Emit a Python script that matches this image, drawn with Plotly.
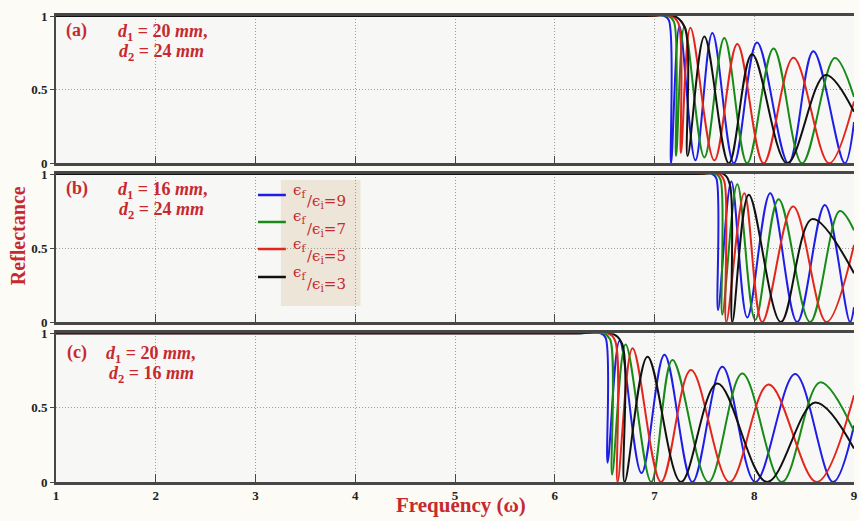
import plotly.graph_objects as go
from plotly.subplots import make_subplots

# ---------------- data ----------------
freq_ticks = [1, 2, 3, 4, 5, 6, 7, 8, 9]
refl_ticks = [0, 0.5, 1]
refl_tick_text = ["0", "0.5", "1"]
ratio_labels = ["9", "7", "5", "3"]
series_colors = ["#1e1ee6", "#178a17", "#e3261c", "#111111"]

# panel (a): d1 = 20 mm, d2 = 24 mm
a9_x = [1.0, 6.9, 7.10, 7.145, 7.166, 7.25, 7.41, 7.58, 7.796, 8.028, 8.343, 8.592, 8.907, 9.0]
a9_y = [1.0, 1.0, 1.0, 0.97, 0.0, 0.93, 0.02, 0.885, 0.0, 0.82, 0.0, 0.76, 0.0, 0.28]
a7_x = [1.0, 6.9, 7.14, 7.195, 7.216, 7.30, 7.50, 7.70, 7.929, 8.194, 8.48, 8.808, 9.0]
a7_y = [1.0, 1.0, 1.0, 0.96, 0.05, 0.93, 0.04, 0.85, 0.0, 0.78, 0.0, 0.715, 0.45]
a5_x = [1.0, 6.9, 7.17, 7.24, 7.265, 7.36, 7.60, 7.83, 8.094, 8.393, 8.75, 9.0]
a5_y = [1.0, 1.0, 1.0, 0.95, 0.07, 0.92, 0.02, 0.81, 0.0, 0.716, 0.0, 0.42]
a3_x = [1.0, 6.9, 7.20, 7.305, 7.332, 7.50, 7.746, 7.978, 8.33, 8.713, 9.0]
a3_y = [1.0, 1.0, 1.0, 0.92, 0.05, 0.86, 0.0, 0.74, 0.0, 0.60, 0.35]

# panel (b): d1 = 16 mm, d2 = 24 mm
b9_x = [1.0, 7.4, 7.58, 7.62, 7.637, 7.77, 7.93, 8.16, 8.43, 8.708, 8.96, 9.0]
b9_y = [1.0, 1.0, 1.0, 0.97, 0.08, 0.95, 0.03, 0.87, 0.0, 0.79, 0.0, 0.10]
b7_x = [1.0, 7.4, 7.62, 7.663, 7.68, 7.83, 8.01, 8.244, 8.56, 8.857, 9.0]
b7_y = [1.0, 1.0, 1.0, 0.96, 0.05, 0.93, 0.015, 0.83, 0.0, 0.75, 0.62]
b5_x = [1.0, 7.4, 7.65, 7.70, 7.72, 7.90, 8.08, 8.39, 8.724, 9.0]
b5_y = [1.0, 1.0, 1.0, 0.95, 0.0, 0.87, 0.0, 0.78, 0.0, 0.52]
b3_x = [1.0, 7.4, 7.69, 7.755, 7.78, 7.945, 8.267, 8.58, 9.0]
b3_y = [1.0, 1.0, 1.0, 0.93, 0.0, 0.86, 0.0, 0.695, 0.33]

# panel (c): d1 = 20 mm, d2 = 16 mm
c9_x = [1.0, 6.2, 6.46, 6.51, 6.53, 6.65, 6.87, 7.10, 7.38, 7.68, 8.01, 8.41, 8.79, 9.0]
c9_y = [1.0, 1.0, 1.0, 0.97, 0.13, 0.95, 0.06, 0.855, 0.0, 0.775, 0.0, 0.726, 0.0, 0.38]
c7_x = [1.0, 6.2, 6.49, 6.555, 6.575, 6.71, 6.967, 7.18, 7.54, 7.88, 8.277, 8.66, 9.0]
c7_y = [1.0, 1.0, 1.0, 0.96, 0.05, 0.925, 0.0, 0.82, 0.0, 0.73, 0.0, 0.67, 0.34]
c5_x = [1.0, 6.2, 6.53, 6.605, 6.63, 6.78, 7.066, 7.365, 7.753, 8.144, 8.625, 9.0]
c5_y = [1.0, 1.0, 1.0, 0.95, 0.0, 0.90, 0.0, 0.753, 0.0, 0.656, 0.0, 0.584]
c3_x = [1.0, 6.2, 6.57, 6.675, 6.70, 6.93, 7.265, 7.63, 8.128, 8.61, 9.0]
c3_y = [1.0, 1.0, 1.0, 0.93, 0.0, 0.843, 0.0, 0.663, 0.0, 0.535, 0.225]

panel_tags = ["(a)", "(b)", "(c)"]
panel_d1 = ["20", "16", "20"]
panel_d2 = ["24", "24", "16"]

# ---------------- figure ----------------
RED = "#c62a2f"
SERIF = "Liberation Serif"
FRAME = "#474747"
GRID = "#9c9c9c"
GRID_DASH = "1px,2px"

fig = make_subplots(rows=3, cols=1, shared_xaxes=True)

panels = [
    [(a9_x, a9_y), (a7_x, a7_y), (a5_x, a5_y), (a3_x, a3_y)],
    [(b9_x, b9_y), (b7_x, b7_y), (b5_x, b5_y), (b3_x, b3_y)],
    [(c9_x, c9_y), (c7_x, c7_y), (c5_x, c5_y), (c3_x, c3_y)],
]
for r, curves in enumerate(panels, start=1):
    for (xs, ys), col, lab in zip(curves, series_colors, ratio_labels):
        fig.add_trace(
            go.Scatter(
                x=xs, y=ys, mode="lines", name="εf/εi=" + lab,
                line=dict(color=col, width=2, shape="spline", smoothing=1.0),
                showlegend=False, hoverinfo="skip",
            ),
            row=r, col=1,
        )

W, H = 859, 521
ML, MR, MT, MB = 56, 1, 16, 39
PW, PH = W - ML - MR, H - MT - MB


def px2x(px):
    return (px - ML) / PW


def py2y(py):
    return (H - MB - py) / PH


domains = [[py2y(163.3), 1.0], [py2y(322), py2y(174)], [0.0, py2y(333.3)]]

for i in range(1, 4):
    fig.update_xaxes(
        range=[1, 9], tickvals=freq_ticks, showgrid=True, gridcolor=GRID,
        griddash=GRID_DASH, gridwidth=1, showline=True, linecolor=FRAME,
        linewidth=2.5, mirror=True, ticks="inside", ticklen=8, tickwidth=1.2,
        tickcolor=FRAME, zeroline=False, ticklabeloverflow="allow",
        tickfont=dict(family=SERIF, size=13, color="#222", weight="bold"),
        row=i, col=1,
    )
    fig.update_yaxes(
        range=[0, 1], tickvals=refl_ticks, ticktext=refl_tick_text,
        showgrid=True, gridcolor=GRID, griddash=GRID_DASH, gridwidth=1,
        showline=True, linecolor=FRAME, linewidth=2, mirror=False,
        ticks="outside", ticklen=4, tickwidth=1.2, tickcolor=FRAME,
        zeroline=False, domain=domains[i - 1],
        tickfont=dict(family=SERIF, size=13, color="#222", weight="bold"),
        row=i, col=1,
    )

annotations = []
tag_y = [30, 188, 352]
d1_left = [116, 116, 104]
d2_left = [117, 117, 107]
for k in range(3):
    annotations.append(dict(
        x=px2x(77), y=py2y(tag_y[k]), xref="paper", yref="paper",
        text="<b>" + panel_tags[k] + "</b>", showarrow=False,
        font=dict(family=SERIF, size=18, color=RED), xanchor="center", yanchor="middle",
    ))
    annotations.append(dict(
        x=px2x(d1_left[k]), y=py2y(tag_y[k] + 2), xref="paper", yref="paper",
        text="<b><i>d</i><sub>1</sub>\u00a0=\u00a0" + panel_d1[k] + "\u00a0<i>mm</i>,</b>",
        showarrow=False, font=dict(family=SERIF, size=18, color=RED),
        xanchor="left", yanchor="middle",
    ))
    annotations.append(dict(
        x=px2x(d2_left[k]), y=py2y(tag_y[k] + 22), xref="paper", yref="paper",
        text="<b><i>d</i><sub>2</sub>\u00a0=\u00a0" + panel_d2[k] + "\u00a0<i>mm</i></b>",
        showarrow=False, font=dict(family=SERIF, size=18, color=RED),
        xanchor="left", yanchor="middle",
    ))

# legend (custom, inside panel b)
shapes = [dict(
    type="rect", xref="paper", yref="paper",
    x0=px2x(282), x1=px2x(362), y0=py2y(306), y1=py2y(180),
    fillcolor="#ece5d8", line=dict(width=0), layer="below",
)]
leg_py = [195, 222, 249, 277]
for py, col, lab in zip(leg_py, series_colors, ratio_labels):
    shapes.append(dict(
        type="line", xref="paper", yref="paper",
        x0=px2x(259), x1=px2x(287), y0=py2y(py), y1=py2y(py),
        line=dict(color=col, width=2.5),
    ))
    annotations.append(dict(
        x=px2x(292), y=py2y(py - 5), xref="paper", yref="paper",
        text="ϵ<sub>f</sub>", showarrow=False,
        font=dict(family="DejaVu Serif", size=15, color=RED),
        xanchor="left", yanchor="middle",
    ))
    annotations.append(dict(
        x=px2x(306), y=py2y(py + 7), xref="paper", yref="paper",
        text="/ϵ<sub>i</sub>=" + lab, showarrow=False,
        font=dict(family="DejaVu Serif", size=15, color=RED),
        xanchor="left", yanchor="middle",
    ))

annotations.append(dict(
    x=px2x(463), y=py2y(505), xref="paper", yref="paper",
    text="<b>Frequency (ω)</b>", showarrow=False,
    font=dict(family=SERIF, size=21, color=RED), xanchor="center", yanchor="middle",
))
annotations.append(dict(
    x=px2x(18), y=py2y(236), xref="paper", yref="paper",
    text="<b>Reflectance</b>", showarrow=False, textangle=-90,
    font=dict(family=SERIF, size=20, color=RED), xanchor="center", yanchor="middle",
))

fig.update_layout(
    width=W, height=H,
    margin=dict(l=ML, r=MR, t=MT, b=MB),
    paper_bgcolor="#fcfbf6", plot_bgcolor="#f7f7f5",
    showlegend=False, shapes=shapes, annotations=annotations,
)

fig.write_html("out.html")
